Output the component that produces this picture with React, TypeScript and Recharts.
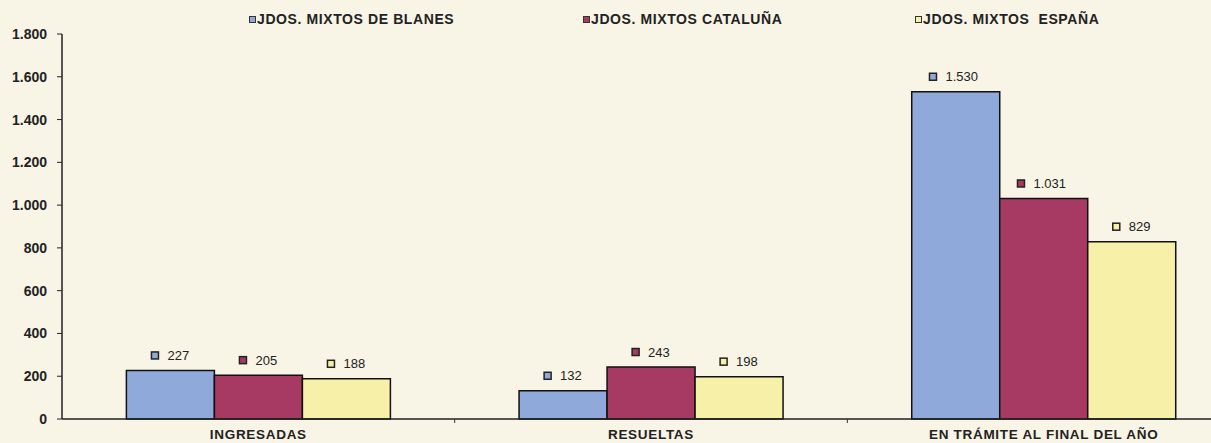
import React from "react";
import { BarChart, Bar, XAxis, YAxis, LabelList } from "recharts";

// Categories and series values
const categories = ["INGRESADAS", "RESUELTAS", "EN TRÁMITE AL FINAL DEL AÑO"];
const seriesNames = [
  "JDOS. MIXTOS DE BLANES",
  "JDOS. MIXTOS CATALUÑA",
  "JDOS. MIXTOS  ESPAÑA",
];
const blanesValues = [227, 132, 1530];
const catalunaValues = [205, 243, 1031];
const espanaValues = [188, 198, 829];
const yTicks = [0, 200, 400, 600, 800, 1000, 1200, 1400, 1600, 1800];

const colors = ["#8FA9DA", "#A73A63", "#F6F0A8"];
const bg = "#F8F4E6";
const font = "'Liberation Sans', Arial, sans-serif";

const CHART_W = 1240;
const CHART_H = 443;
const Y_AXIS_W = 62;
const X_AXIS_H = 24;
const BAND = (CHART_W - Y_AXIS_W) / categories.length;

const data = categories.map((name, i) => ({
  name,
  blanes: blanesValues[i],
  cataluna: catalunaValues[i],
  espana: espanaValues[i],
}));

// 1530 -> "1.530"
const fmt = (v: number) => String(v).replace(/\B(?=(\d{3})+(?!\d))/g, ".");

const makeLabel = (color: string) => (props: any) => {
  const { x, y, width, value } = props;
  const text = fmt(value);
  const textW = text.length * 7.3;
  const total = 7 + 9 + textW;
  const cx = x + width / 2;
  const left = cx - total / 2;
  const cy = y - 15;
  return (
    <g>
      <rect x={left} y={cy - 3.5} width={7} height={7} fill={color} stroke="#222" strokeWidth={1.5} />
      <text x={left + 16} y={cy} dy="0.36em" fontSize={13} fontFamily={font} fill="#222">
        {text}
      </text>
    </g>
  );
};

const XTick = (props: any) => {
  const { x, y, payload, index } = props;
  return (
    <g>
      {index > 0 && (
        <line x1={x - BAND / 2} x2={x - BAND / 2} y1={y - 8} y2={y - 4} stroke="#333" strokeWidth={1} />
      )}
      <text
        x={x}
        y={y + 12}
        textAnchor="middle"
        fontSize={13.5}
        fontWeight="bold"
        letterSpacing={0.7}
        fontFamily={font}
        fill="#222"
      >
        {payload.value}
      </text>
    </g>
  );
};

const legendLeft = [249, 583, 915];

export default function App() {
  return (
    <div
      style={{
        position: "absolute",
        left: 0,
        top: 0,
        width: 1211,
        height: CHART_H,
        overflow: "hidden",
        background: bg,
      }}
    >
      {seriesNames.map((name, i) => (
        <div
          key={name}
          style={{
            position: "absolute",
            left: legendLeft[i],
            top: 11,
            display: "flex",
            alignItems: "center",
            fontFamily: font,
            fontWeight: "bold",
            fontSize: 14,
            letterSpacing: 0.6,
            color: "#222",
            whiteSpace: "pre",
          }}
        >
          <span
            style={{
              display: "inline-block",
              width: 5,
              height: 5,
              background: colors[i],
              border: "1.5px solid #333",
              marginRight: 1,
            }}
          />
          {name}
        </div>
      ))}
      <BarChart
        width={CHART_W}
        height={CHART_H}
        data={data}
        margin={{ top: 34, right: 0, bottom: 0, left: 0 }}
        barCategoryGap="16.4%"
        barGap={0}
      >
        <XAxis
          dataKey="name"
          height={X_AXIS_H}
          tick={<XTick />}
          tickLine={false}
          axisLine={{ stroke: "#222", strokeWidth: 1.5 }}
          interval={0}
        />
        <YAxis
          width={Y_AXIS_W}
          domain={[0, 1800]}
          ticks={yTicks}
          tickFormatter={fmt}
          tickSize={5}
          tickMargin={10}
          axisLine={{ stroke: "#222", strokeWidth: 1.5 }}
          tickLine={{ stroke: "#222" }}
          tick={{ fontSize: 14, fontWeight: "bold", fontFamily: font, fill: "#222" }}
        />
        <Bar dataKey="blanes" fill={colors[0]} stroke="#111" strokeWidth={1.5} isAnimationActive={false}>
          <LabelList dataKey="blanes" content={makeLabel(colors[0])} />
        </Bar>
        <Bar dataKey="cataluna" fill={colors[1]} stroke="#111" strokeWidth={1.5} isAnimationActive={false}>
          <LabelList dataKey="cataluna" content={makeLabel(colors[1])} />
        </Bar>
        <Bar dataKey="espana" fill={colors[2]} stroke="#111" strokeWidth={1.5} isAnimationActive={false}>
          <LabelList dataKey="espana" content={makeLabel(colors[2])} />
        </Bar>
      </BarChart>
    </div>
  );
}
